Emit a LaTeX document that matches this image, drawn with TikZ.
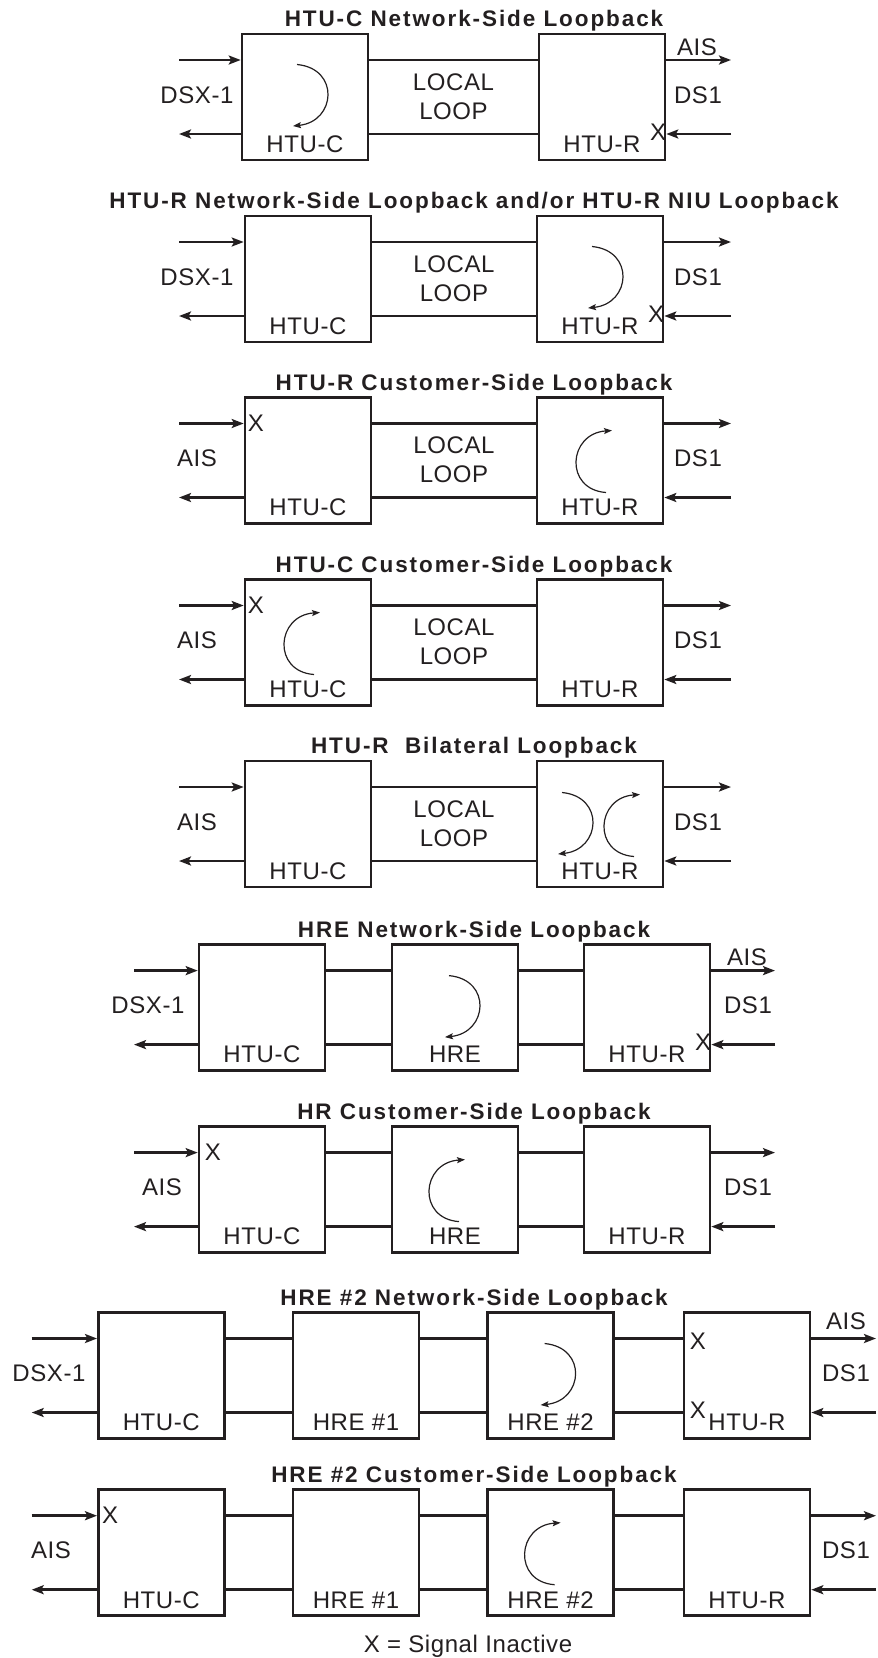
\documentclass[tikz,border=0pt]{standalone}
\usepackage{fontspec}
\setmainfont{Liberation Sans}
\usetikzlibrary{arrows.meta,calc}
\definecolor{ink}{HTML}{231F20}
\tikzset{
  unit/.style={draw=ink,line width=2.6pt,minimum width=126pt,minimum height=126pt,inner sep=0pt},
  sig/.style={draw=ink,line width=2.6pt},
  fwd/.style={-{Stealth[length=12pt,width=9pt,inset=2.5pt]}},
  bwd/.style={{Stealth[length=12pt,width=9pt,inset=2.5pt]}-},
  loopline/.style={draw=ink,line width=1.2pt,-{Stealth[length=8pt,width=6pt,inset=1.5pt]}},
  lbl/.style={text=ink,inner sep=0pt,font=\fontsize{24}{28}\selectfont\addfontfeature{LetterSpace=2.5}},
  ttl/.style={text=ink,inner sep=0pt,anchor=base,font=\fontsize{22.5}{26}\selectfont\bfseries\addfontfeature{LetterSpace=8.5}},
  netloop/.pic={\draw[loopline] (0,0) .. controls (43,4) and (39,57) .. (-4,61.5);},
  custloop/.pic={\draw[loopline] (0,0) .. controls (-42,-3) and (-38,-59) .. (6,-62);},
}
\begin{document}
\begin{tikzpicture}[x=1pt,y=-1pt]
  \useasboundingbox (0,0) rectangle (878,1658);
  % titles
  \foreach \p/\T/\txt in {1/34/{HTU-C Network-Side Loopback},2/216/{HTU-R Network-Side Loopback and/or HTU-R NIU Loopback},
      3/397.5/{HTU-R Customer-Side Loopback},4/579.5/{HTU-C Customer-Side Loopback},5/761/{HTU-R\ \ Bilateral Loopback},
      6/944.6/{HRE Network-Side Loopback},7/1126.6/{HR Customer-Side Loopback},8/1312.5/{HRE \#2 Network-Side Loopback},
      9/1489.7/{HRE \#2 Customer-Side Loopback}}{
    \node[ttl] (t\p) at (474,\T-7.5) {\txt};}
  % HTU-C + HTU-R over the local loop
  \foreach \p/\T/\cx/\rx/\lft in {1/34/305/602/DSX-1,2/216/308/600/DSX-1,3/397.5/308/600/AIS,4/579.5/308/600/AIS,5/761/308/600/AIS}{
    \node[unit] (c\p) at (\cx,\T+63) {};
    \node[unit] (r\p) at (\rx,\T+63) {};
    \coordinate (li\p) at (179,\T+26);
    \coordinate (lo\p) at (179,\T+100);
    \coordinate (ro\p) at (731,\T+26);
    \coordinate (ri\p) at (731,\T+100);
    \draw[sig,fwd] (li\p) -- (li\p-|c\p.west);
    \draw[sig,bwd] (lo\p) -- (lo\p-|c\p.west);
    \draw[sig] (c\p.east|-li\p) -- (r\p.west|-li\p);
    \draw[sig] (c\p.east|-lo\p) -- (r\p.west|-lo\p);
    \draw[sig,fwd] (r\p.east|-ro\p) -- (ro\p);
    \draw[sig,fwd] (ri\p) -- (ri\p-|r\p.east);
    \node[lbl,anchor=base] (cl\p) at ([yshift=9pt]c\p.south) {HTU-C};
    \node[lbl,anchor=base] (rl\p) at ([yshift=9pt]r\p.south) {HTU-R};
    \node[lbl] (ll\p) at ($(c\p.east)!0.5!(r\p.west)+(0,-15)$) {LOCAL};
    \node[lbl] (lp\p) at ($(c\p.east)!0.5!(r\p.west)+(0,14)$) {LOOP};
    \node[lbl] (lt\p) at (197,\T+61) {\lft};
    \node[lbl] (ds\p) at (698,\T+61) {DS1};
  }
  \node[lbl] (ais1) at (697,47.5) {AIS};
  \node[lbl,anchor=east] (x1) at ([yshift=2pt]r1.east|-ri1) {X};
  \pic at ($(c1)+(-8,-32.5)$) {netloop};
  \node[lbl,anchor=east] (x2) at ([yshift=2pt]r2.east|-ri2) {X};
  \pic at ($(r2)+(-8,-32.5)$) {netloop};
  \node[lbl,anchor=west] (x3) at ([xshift=4pt]c3.west|-li3) {X};
  \pic at ($(r3)+(6,32)$) {custloop};
  \node[lbl,anchor=west] (x4) at ([xshift=4pt]c4.west|-li4) {X};
  \pic at ($(c4)+(6,32)$) {custloop};
  \pic at ($(r5)+(-38,-31.5)$) {netloop};
  \pic at ($(r5)+(34,32.5)$) {custloop};
  % HTU-C + HRE + HTU-R
  \foreach \p/\T/\lft/\lx in {6/944.6/DSX-1/148,7/1126.6/AIS/162}{
    \node[unit] (c\p) at (262,\T+63) {};
    \node[unit] (h\p) at (455,\T+63) {};
    \node[unit] (r\p) at (647,\T+63) {};
    \coordinate (li\p) at (134,\T+26);
    \coordinate (lo\p) at (134,\T+100);
    \coordinate (ro\p) at (775,\T+26);
    \coordinate (ri\p) at (775,\T+100);
    \draw[sig,fwd] (li\p) -- (li\p-|c\p.west);
    \draw[sig,bwd] (lo\p) -- (lo\p-|c\p.west);
    \foreach \u/\v in {c/h,h/r}{
      \draw[sig] (\u\p.east|-li\p) -- (\v\p.west|-li\p);
      \draw[sig] (\u\p.east|-lo\p) -- (\v\p.west|-lo\p);}
    \draw[sig,fwd] (r\p.east|-ro\p) -- (ro\p);
    \draw[sig,fwd] (ri\p) -- (ri\p-|r\p.east);
    \node[lbl,anchor=base] (cl\p) at ([yshift=9pt]c\p.south) {HTU-C};
    \node[lbl,anchor=base] (hl\p) at ([yshift=9pt]h\p.south) {HRE};
    \node[lbl,anchor=base] (rl\p) at ([yshift=9pt]r\p.south) {HTU-R};
    \node[lbl] (lt\p) at (\lx,\T+61) {\lft};
    \node[lbl] (ds\p) at (748,\T+61) {DS1};
  }
  \node[lbl] (ais6) at (747,957.6) {AIS};
  \node[lbl,anchor=east] (x6) at ([yshift=2pt]r6.east|-ri6) {X};
  \pic at ($(h6)+(-6,-32)$) {netloop};
  \node[lbl,anchor=west] (x7) at ([xshift=7pt]c7.west|-li7) {X};
  \pic at ($(h7)+(4,32)$) {custloop};
  % HTU-C + HRE #1 + HRE #2 + HTU-R
  \foreach \p/\T/\lft/\lx in {8/1312.5/DSX-1/49,9/1489.7/AIS/51}{
    \node[unit] (c\p) at (161.3,\T+63) {};
    \node[unit] (a\p) at (356,\T+63) {};
    \node[unit] (b\p) at (550.6,\T+63) {};
    \node[unit] (r\p) at (747,\T+63) {};
    \coordinate (li\p) at (31.7,\T+26);
    \coordinate (lo\p) at (31.7,\T+100);
    \coordinate (ro\p) at (876,\T+26);
    \coordinate (ri\p) at (876,\T+100);
    \draw[sig,fwd] (li\p) -- (li\p-|c\p.west);
    \draw[sig,bwd] (lo\p) -- (lo\p-|c\p.west);
    \foreach \u/\v in {c/a,a/b,b/r}{
      \draw[sig] (\u\p.east|-li\p) -- (\v\p.west|-li\p);
      \draw[sig] (\u\p.east|-lo\p) -- (\v\p.west|-lo\p);}
    \draw[sig,fwd] (r\p.east|-ro\p) -- (ro\p);
    \draw[sig,fwd] (ri\p) -- (ri\p-|r\p.east);
    \node[lbl,anchor=base] (cl\p) at ([yshift=9pt]c\p.south) {HTU-C};
    \node[lbl,anchor=base] (al\p) at ([yshift=9pt]a\p.south) {HRE \#1};
    \node[lbl,anchor=base] (bl\p) at ([yshift=9pt]b\p.south) {HRE \#2};
    \node[lbl,anchor=base] (rl\p) at ([yshift=9pt]r\p.south) {HTU-R};
    \node[lbl] (lt\p) at (\lx,\T+61) {\lft};
    \node[lbl] (ds\p) at (846,\T+61) {DS1};
  }
  \node[lbl] (ais8) at (846,1321) {AIS};
  \node[lbl,anchor=west] (x8) at ([xshift=7pt,yshift=-3pt]r8.west|-li8) {X};
  \node[lbl,anchor=west] (x8b) at ([xshift=7pt,yshift=2.5pt]r8.west|-lo8) {X};
  \pic at ($(b8)+(-6,-32)$) {netloop};
  \node[lbl,anchor=west] (x9) at ([xshift=5pt]c9.west|-li9) {X};
  \pic at ($(b9)+(4,32)$) {custloop};
  \node[lbl,anchor=base] (key) at (468,1652.7) {X = Signal Inactive};
\end{tikzpicture}
\end{document}
